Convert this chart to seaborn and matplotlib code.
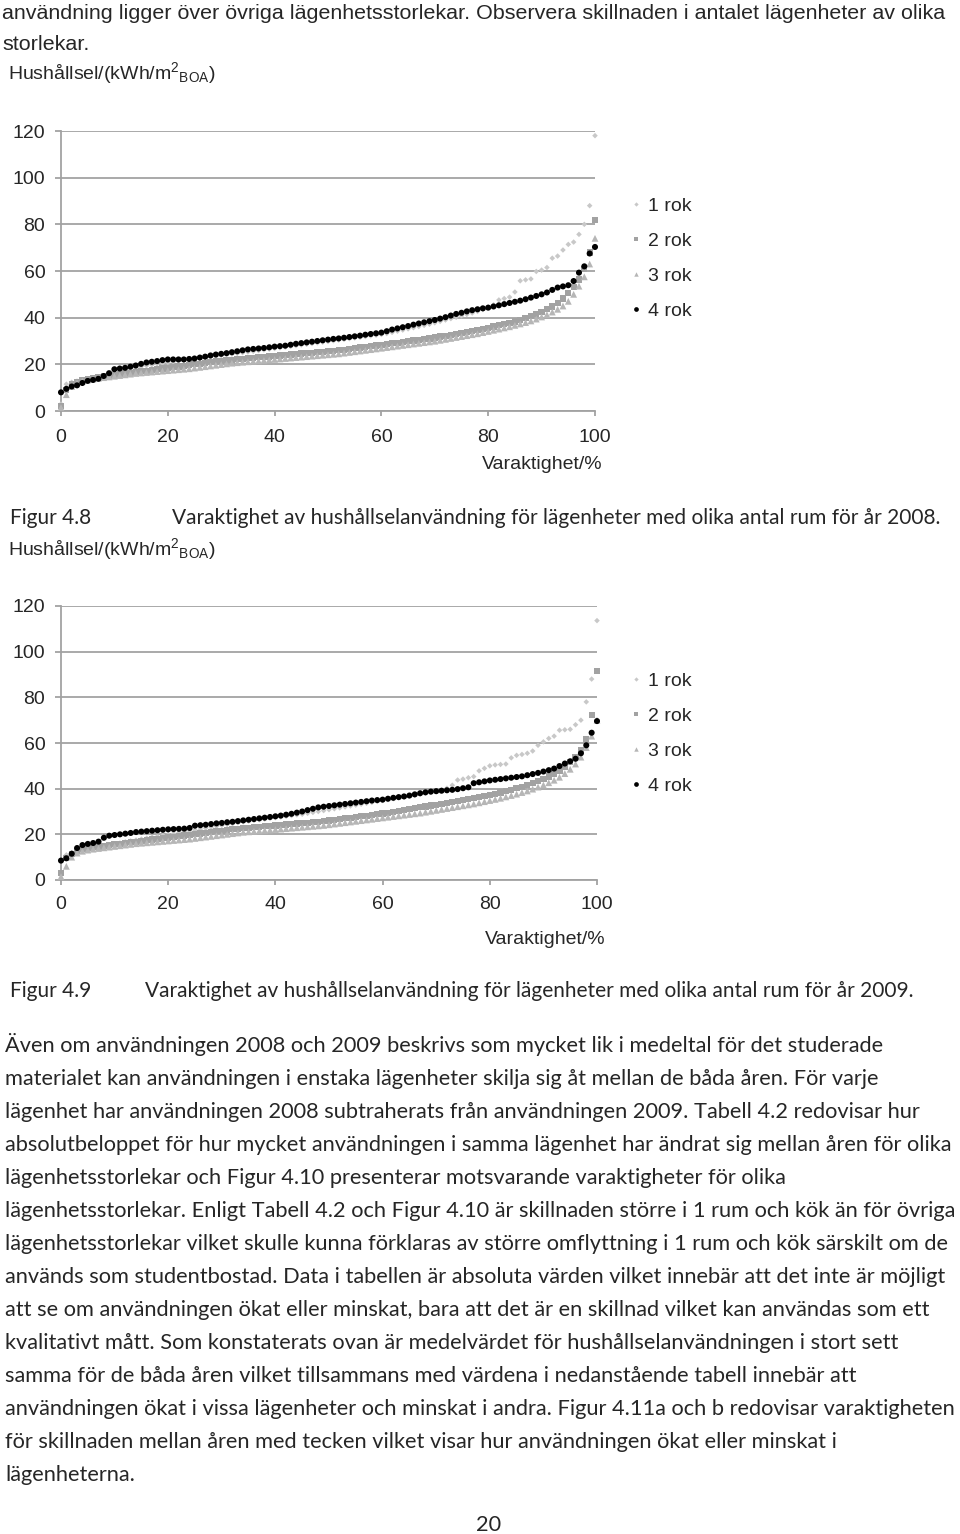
"""Page with two duration curves (hushållsel 2008 / 2009) and surrounding report text."""
import matplotlib

matplotlib.use("Agg")
import matplotlib.pyplot as plt
import pandas as pd
import seaborn as sns
from matplotlib.lines import Line2D

# ---- data --------------------------------------------------------------
PCT = list(range(0, 101))  # varaktighet, %
SERIES = ["1 rok", "2 rok", "3 rok", "4 rok"]
X_TICKS = [0, 20, 40, 60, 80, 100]
Y_TICKS = [0, 20, 40, 60, 80, 100, 120]

rok1_2008 = [3, 11.5, 12.3, 12.8, 13.2, 13.6, 14, 14.4, 14.9, 15.5,
             16.2, 16.9, 17.5, 18, 18.5, 19, 19.4, 19.8, 20.2, 20.5,
             20.8, 21.1, 21.4, 21.7, 22, 22.3, 22.6, 22.9, 23.2, 23.5,
             23.8, 24.1, 24.4, 24.7, 25, 25.3, 25.6, 25.9, 26.2, 26.5,
             26.8, 27.1, 27.4, 27.7, 28, 28.3, 28.6, 28.9, 29.2, 29.5,
             29.8, 30.1, 30.4, 30.7, 31, 31.3, 31.6, 31.9, 32.2, 32.5,
             32.8, 33.2, 33.7, 34.2, 34.7, 35.2, 35.7, 36.2, 36.7, 37.2,
             37.8, 38.4, 39, 39.6, 40.2, 40.8, 41.4, 42, 42.7, 43.5,
             44.5, 45.5, 47.6, 48.2, 48.8, 51, 55.8, 56.2, 56.6, 59.8,
             60.4, 61.5, 65.5, 66.4, 69, 71.4, 72.4, 75.7, 80, 88,
             118]
rok2_2008 = [2, 9, 11.5, 12.5, 13.2, 13.7, 14.1, 14.5, 14.8, 15.1,
             15.5, 15.8, 16.1, 16.4, 16.7, 17, 17.3, 17.6, 17.9, 18.2,
             18.5, 18.8, 19.1, 19.4, 19.7, 20, 20.3, 20.6, 20.9, 21.2,
             21.5, 21.8, 22, 22.2, 22.4, 22.6, 22.8, 23, 23.2, 23.4,
             23.6, 23.8, 24, 24.2, 24.4, 24.6, 24.8, 25, 25.2, 25.4,
             25.6, 25.8, 26, 26.3, 26.6, 26.9, 27.2, 27.5, 27.8, 28.1,
             28.4, 28.7, 29, 29.3, 29.6, 29.9, 30.2, 30.5, 30.8, 31.1,
             31.5, 31.9, 32.3, 32.7, 33.1, 33.5, 33.9, 34.3, 34.7, 35.2,
             35.7, 36.2, 36.7, 37.2, 37.8, 38.4, 39.1, 39.8, 40.6, 41.5,
             42.5, 43.6, 44.8, 46.3, 48.2, 50.7, 53.2, 56.4, 60.7, 67.9,
             82]
rok3_2008 = [1.5, 7, 10.5, 12, 12.8, 13.3, 13.7, 14, 14.3, 14.6,
             14.9, 15.2, 15.5, 15.8, 16.1, 16.3, 16.5, 16.7, 16.9, 17.1,
             17.3, 17.5, 17.7, 17.9, 18.1, 18.4, 18.7, 19, 19.3, 19.6,
             19.9, 20.2, 20.5, 20.7, 20.9, 21.1, 21.3, 21.5, 21.7, 21.9,
             22.1, 22.3, 22.5, 22.7, 22.9, 23.1, 23.3, 23.5, 23.7, 23.9,
             24.1, 24.3, 24.5, 24.8, 25.1, 25.4, 25.7, 26, 26.3, 26.6,
             26.9, 27.2, 27.5, 27.8, 28.1, 28.4, 28.7, 29, 29.3, 29.6,
             29.9, 30.3, 30.7, 31.1, 31.5, 31.9, 32.3, 32.7, 33.1, 33.6,
             34.1, 34.6, 35.1, 35.6, 36.1, 36.7, 37.3, 37.9, 38.6, 39.4,
             40.3, 41.3, 42.4, 43.6, 45, 47, 50, 53.5, 57.5, 63,
             74]
rok4_2008 = [8, 9.5, 10.5, 11, 12, 12.9, 13.3, 13.8, 15, 16.2,
             17.9, 18.2, 18.5, 19, 19.5, 20.2, 20.8, 21.1, 21.4, 21.8,
             22.1, 22.1, 22.1, 22.1, 22.3, 22.5, 22.9, 23.3, 23.8, 24.2,
             24.5, 24.8, 25.2, 25.6, 26, 26.4, 26.6, 26.8, 27, 27.3,
             27.6, 27.8, 28, 28.4, 28.8, 29.1, 29.4, 29.7, 30, 30.3,
             30.6, 30.9, 31.1, 31.4, 31.7, 32, 32.3, 32.7, 33, 33.3,
             33.6, 34.2, 34.9, 35.4, 35.9, 36.4, 37, 37.5, 38, 38.5,
             39, 39.6, 40.2, 40.9, 41.6, 42.1, 42.7, 43.2, 43.6, 44,
             44.3, 44.8, 45.3, 45.8, 46.3, 46.8, 47.3, 47.9, 48.6, 49.3,
             50, 50.8, 51.9, 52.9, 53.4, 53.9, 55.7, 59.3, 62, 67.5,
             70.3]

rok1_2009 = [3, 11, 12, 12.5, 13, 13.4, 13.8, 14.2, 14.7, 15.2,
             15.7, 16.2, 16.7, 17.1, 17.5, 17.9, 18.3, 18.7, 19.1, 19.5,
             19.9, 20.3, 20.7, 21.1, 21.5, 21.9, 22.3, 22.7, 23.1, 23.5,
             23.9, 24.3, 24.7, 25.1, 25.5, 25.8, 26.1, 26.4, 26.7, 27,
             27.3, 27.6, 27.9, 28.2, 28.5, 28.8, 29.2, 29.6, 30, 30.4,
             30.8, 31.2, 31.6, 32, 32.4, 32.8, 33.2, 33.6, 34, 34.4,
             34.8, 35.2, 35.6, 36, 36.4, 36.8, 37.2, 37.6, 38, 38.4,
             38.8, 39.4, 40.2, 41.5, 43.8, 44.2, 44.8, 45.3, 47.8, 48.9,
             50, 50.4, 50.6, 50.8, 53.5, 54.6, 55, 55.5, 56.5, 59,
             60.5, 62, 63, 65.6, 65.8, 66, 68, 70, 78, 88,
             113.6]
rok2_2009 = [3, 9.5, 11.5, 12.8, 13.5, 14, 14.4, 14.7, 15, 15.3,
             15.6, 15.9, 16.2, 16.5, 16.8, 17.1, 17.4, 17.7, 18, 18.3,
             18.6, 18.9, 19.2, 19.5, 19.8, 20.1, 20.4, 20.7, 21, 21.3,
             21.6, 21.9, 22.2, 22.5, 22.7, 22.9, 23.1, 23.3, 23.5, 23.7,
             23.9, 24.1, 24.3, 24.5, 24.7, 24.9, 25.1, 25.3, 25.5, 25.8,
             26.1, 26.4, 26.7, 27, 27.3, 27.6, 27.9, 28.2, 28.5, 28.8,
             29.1, 29.4, 29.8, 30.2, 30.6, 31, 31.4, 31.8, 32.2, 32.6,
             33, 33.4, 33.8, 34.2, 34.6, 35, 35.4, 35.8, 36.3, 36.8,
             37.3, 37.8, 38.3, 38.9, 39.5, 40.2, 40.9, 41.6, 42.4, 43.3,
             44.3, 45.3, 46.5, 47.9, 49.6, 51.7, 54, 57, 61.5, 72.3,
             91.6]
rok3_2009 = [1.5, 6, 10, 11.8, 12.6, 13.1, 13.5, 13.8, 14.1, 14.4,
             14.7, 15, 15.3, 15.6, 15.9, 16.1, 16.3, 16.5, 16.7, 16.9,
             17.1, 17.3, 17.5, 17.7, 17.9, 18.2, 18.5, 18.8, 19.1, 19.4,
             19.7, 20, 20.3, 20.6, 20.9, 21.1, 21.3, 21.5, 21.7, 21.9,
             22.1, 22.3, 22.5, 22.7, 22.9, 23.1, 23.3, 23.5, 23.7, 23.9,
             24.2, 24.5, 24.8, 25.1, 25.4, 25.7, 26, 26.3, 26.6, 26.9,
             27.2, 27.5, 27.8, 28.1, 28.4, 28.7, 29, 29.3, 29.7, 30.1,
             30.5, 30.9, 31.3, 31.7, 32.1, 32.5, 32.9, 33.3, 33.8, 34.3,
             34.8, 35.3, 35.8, 36.4, 37, 37.6, 38.3, 39, 39.8, 40.7,
             41.6, 42.6, 43.7, 45, 46.6, 48.5, 50.8, 53.8, 58, 63,
             70]
rok4_2009 = [8.5, 9.5, 11.5, 14, 15.3, 15.8, 16.2, 16.8, 18.5, 19.4,
             19.7, 20, 20.3, 20.6, 21, 21.2, 21.4, 21.6, 21.8, 22,
             22.2, 22.3, 22.4, 22.5, 22.8, 23.8, 24, 24.2, 24.5, 24.8,
             25, 25.3, 25.5, 25.8, 26.1, 26.4, 26.7, 27, 27.3, 27.6,
             27.9, 28.2, 28.6, 29, 29.5, 30, 30.6, 31.2, 31.8, 32.1,
             32.4, 32.7, 33, 33.3, 33.6, 33.9, 34.2, 34.5, 34.8, 35,
             35.2, 35.6, 36, 36.3, 36.6, 37, 37.5, 38, 38.4, 38.7,
             38.9, 39.1, 39.3, 39.5, 39.8, 40.2, 40.6, 42.4, 42.8, 43.2,
             43.6, 43.9, 44.2, 44.5, 44.8, 45.1, 45.4, 45.9, 46.4, 46.9,
             47.5, 48.1, 48.8, 49.9, 51, 52, 53.1, 55.5, 59, 64.5,
             69.6]

TOP_LINES = [
    "användning ligger över övriga lägenhetsstorlekar. Observera skillnaden i antalet lägenheter av olika",
    "storlekar.",
]
CAPTIONS = [
    ("Figur 4.8", "Varaktighet av hushållselanvändning för lägenheter med olika antal rum för år 2008."),
    ("Figur 4.9", "Varaktighet av hushållselanvändning för lägenheter med olika antal rum för år 2009."),
]
PARAGRAPH = [
    "Även om användningen 2008 och 2009 beskrivs som mycket lik i medeltal för det studerade",
    "materialet kan användningen i enstaka lägenheter skilja sig åt mellan de båda åren. För varje",
    "lägenhet har användningen 2008 subtraherats från användningen 2009. Tabell 4.2 redovisar hur",
    "absolutbeloppet för hur mycket användningen i samma lägenhet har ändrat sig mellan åren för olika",
    "lägenhetsstorlekar och Figur 4.10 presenterar motsvarande varaktigheter för olika",
    "lägenhetsstorlekar. Enligt Tabell 4.2 och Figur 4.10 är skillnaden större i 1 rum och kök än för övriga",
    "lägenhetsstorlekar vilket skulle kunna förklaras av större omflyttning i 1 rum och kök särskilt om de",
    "används som studentbostad. Data i tabellen är absoluta värden vilket innebär att det inte är möjligt",
    "att se om användningen ökat eller minskat, bara att det är en skillnad vilket kan användas som ett",
    "kvalitativt mått. Som konstaterats ovan är medelvärdet för hushållselanvändningen i stort sett",
    "samma för de båda åren vilket tillsammans med värdena i nedanstående tabell innebär att",
    "användningen ökat i vissa lägenheter och minskat i andra. Figur 4.11a och b redovisar varaktigheten",
    "för skillnaden mellan åren med tecken vilket visar hur användningen ökat eller minskat i",
    "lägenheterna.",
]
PAGE_NO = "20"
Y_LABEL = r"Hushållsel/(kWh/m$^{\mathrm{2}}$$_{\mathrm{BOA}}$)"
X_LABEL = "Varaktighet/%"

# ---- style -------------------------------------------------------------
sns.set_theme(style="white")
plt.rcParams["font.family"] = ["Liberation Sans", "DejaVu Sans"]
plt.rcParams["mathtext.fontset"] = "custom"
plt.rcParams["mathtext.rm"] = "Liberation Sans"
plt.rcParams["mathtext.it"] = "Liberation Sans:italic"

BODY_FONT = ["Lato", "DejaVu Sans"]
CHART_FONT = ["Liberation Sans", "DejaVu Sans"]
CHART_FS = 14
GRID = "#a2a2a2"
COLORS = {"1 rok": "#c8c8c8", "2 rok": "#a2a2a2", "3 rok": "#b6b6b6", "4 rok": "#000000"}
MARKERS = {"1 rok": "D", "2 rok": "s", "3 rok": "^", "4 rok": "o"}
SIZES = {"1 rok": 8, "2 rok": 20, "3 rok": 24, "4 rok": 19}
LEG_MS = {"1 rok": 2.2, "2 rok": 3.4, "3 rok": 3.2, "4 rok": 3.4}

W, H = 960, 1534
fig = plt.figure(figsize=(W / 100, H / 100), dpi=100)
renderer = fig.canvas.get_renderer()


def fx(px):
    return px / W


def fy(py):
    return 1 - py / H


def fit_size(s, family, target_px, base=14.0):
    t = fig.text(0, 0, s, fontsize=base, family=family)
    w = t.get_window_extent(renderer).width
    t.remove()
    return base * target_px / w


charts = [
    dict(data=[rok1_2008, rok2_2008, rok3_2008, rok4_2008],
         box=(61, 131, 595, 411), ylab_y=72, xlab=(603, 462), leg_y=258.5, xpad=9),
    dict(data=[rok1_2009, rok2_2009, rok3_2009, rok4_2009],
         box=(61, 606, 597, 880), ylab_y=548, xlab=(606, 937), leg_y=733.5, xpad=7.5),
]

for ch in charts:
    x0, y0, x1, y1 = ch["box"]
    ax = fig.add_axes([fx(x0), fy(y1), (x1 - x0) / W, (y1 - y0) / H])

    df = pd.DataFrame({
        "pct": PCT * len(SERIES),
        "value": sum(ch["data"], []),
        "series": [s for s in SERIES for _ in PCT],
    })
    sns.scatterplot(data=df, x="pct", y="value", hue="series", style="series", size="series",
                    palette=COLORS, markers=MARKERS, sizes=SIZES, linewidth=0,
                    legend=False, ax=ax, clip_on=False, zorder=3)

    ax.set_xlim(0, 100)
    ax.set_ylim(0, 120)
    ax.set_xticks(X_TICKS)
    ax.set_yticks(Y_TICKS)
    ax.set_xlabel("")
    ax.set_ylabel("")
    ax.yaxis.grid(True, color=GRID, lw=1.3)
    ax.xaxis.grid(False)
    for side in ["top", "right"]:
        ax.spines[side].set_visible(False)
    for side in ["left", "bottom"]:
        ax.spines[side].set_color(GRID)
        ax.spines[side].set_linewidth(1.3)
    ax.tick_params(axis="y", length=4.3, width=1.3, color=GRID, pad=7, labelsize=CHART_FS, left=True)
    ax.tick_params(axis="x", length=3.8, width=1.3, color=GRID, pad=ch["xpad"], labelsize=CHART_FS,
                   bottom=True)

    fig.text(fx(8), fy(ch["ylab_y"] + 7), Y_LABEL, fontsize=CHART_FS, family=CHART_FONT, va="baseline")
    fig.text(fx(ch["xlab"][0]), fy(ch["xlab"][1] + 7), X_LABEL, fontsize=CHART_FS,
             family=CHART_FONT, ha="right", va="baseline")

    handles = [Line2D([], [], marker=MARKERS[s], color=COLORS[s], linestyle="none",
                      markersize=LEG_MS[s], markeredgewidth=0) for s in SERIES]
    fig.legend(handles, SERIES, loc="center left", bbox_to_anchor=(fx(631), fy(ch["leg_y"])),
               frameon=False, fontsize=CHART_FS, handlelength=0.55, handletextpad=0.3,
               labelspacing=0.9, borderpad=0, borderaxespad=0)

# ---- page text ---------------------------------------------------------
top_size = fit_size(TOP_LINES[0], CHART_FONT, 953)
for i, line in enumerate(TOP_LINES):
    fig.text(fx(2), fy(12 + 31 * i + 7), line, fontsize=top_size, family=CHART_FONT, va="baseline")

cap_size = fit_size(CAPTIONS[0][1], BODY_FONT, 770)
for (lab, txt), (yc, xt) in zip(CAPTIONS, [(517, 172), (990, 145)]):
    fig.text(fx(10), fy(yc + 7), lab, fontsize=cap_size, family=BODY_FONT, va="baseline")
    fig.text(fx(xt), fy(yc + 7), txt, fontsize=cap_size, family=BODY_FONT, va="baseline")

par_size = fit_size(PARAGRAPH[4], BODY_FONT, 782)
for i, line in enumerate(PARAGRAPH):
    fig.text(fx(5), fy(1045 + 33 * i + 7), line, fontsize=par_size, family=BODY_FONT, va="baseline")

fig.text(fx(489), fy(1524 + 7), PAGE_NO, fontsize=par_size, family=BODY_FONT, ha="center", va="baseline")

fig.savefig("out.png", dpi=100)
plt.close(fig)
